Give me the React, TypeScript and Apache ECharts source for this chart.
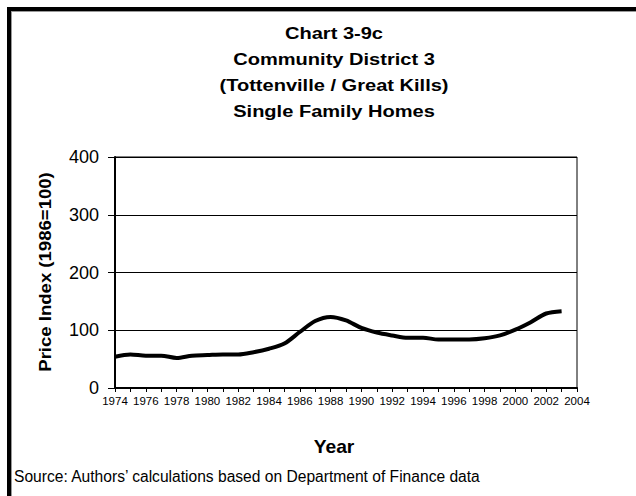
import React, { useEffect, useRef } from "react";
import * as echarts from "echarts";

const years = [
  "1974", "1975", "1976", "1977", "1978", "1979", "1980", "1981", "1982", "1983",
  "1984", "1985", "1986", "1987", "1988", "1989", "1990", "1991", "1992", "1993",
  "1994", "1995", "1996", "1997", "1998", "1999", "2000", "2001", "2002", "2003", "2004",
];
const priceIndex = [
  54, 58, 56, 56, 52, 56, 57, 58, 58, 62,
  68, 77, 97, 116, 123, 117, 104, 96, 91, 87,
  87, 84, 84, 84, 86, 91, 101, 114, 129, 133,
];
const titleLines = [
  "Chart 3-9c",
  "Community District 3",
  "(Tottenville / Great Kills)",
  "Single Family Homes",
];
const yAxisTitle = "Price Index (1986=100)";
const xAxisTitle = "Year";
const sourceText = "Source: Authors\u2019 calculations based on Department of Finance data";

const FONT = "'Liberation Sans', Arial, Helvetica, sans-serif";

export default function App() {
  const ref = useRef<HTMLDivElement>(null);
  useEffect(() => {
    if (!ref.current) return;
    const chart = echarts.init(ref.current, undefined, { renderer: "svg" });
    const titleEls = titleLines.map((t, i) => ({
      type: "text",
      x: 334,
      y: 33 + i * 26,
      scaleX: 1.18,
      style: {
        text: t,
        fontSize: 17,
        fontWeight: "bold",
        fontFamily: FONT,
        fill: "#000",
        align: "center",
        verticalAlign: "middle",
      },
    }));
    chart.setOption({
      animation: false,
      backgroundColor: "#fff",
      textStyle: { fontFamily: FONT },
      grid: {
        left: 115,
        right: 59,
        top: 157,
        bottom: 108,
        show: true,
        borderColor: "#000",
        borderWidth: 1,
        backgroundColor: "transparent",
      },
      xAxis: {
        type: "category",
        data: years,
        boundaryGap: false,
        axisLine: { show: true, lineStyle: { color: "#000", width: 2 } },
        axisTick: { show: true, interval: 0, length: 4, lineStyle: { color: "#000", width: 1 } },
        axisLabel: {
          interval: 1,
          margin: 7,
          fontSize: 11.5,
          color: "#000",
          fontFamily: "'Liberation Sans Narrow', 'Arial Narrow', 'Liberation Sans', Arial, sans-serif",
        },
        splitLine: { show: false },
      },
      yAxis: {
        type: "value",
        min: 0,
        max: 400,
        interval: 100,
        axisLine: { show: true, lineStyle: { color: "#000", width: 2 } },
        axisTick: { show: true, length: 7, lineStyle: { color: "#000", width: 1 } },
        axisLabel: { margin: 16, fontSize: 18, color: "#000", fontFamily: FONT },
        splitLine: { show: true, lineStyle: { color: "#000", width: 1 } },
      },
      series: [
        {
          type: "line",
          data: priceIndex,
          smooth: 0.3,
          showSymbol: false,
          symbol: "none",
          lineStyle: { color: "#000", width: 4 },
          itemStyle: { color: "#000" },
        },
      ],
      graphic: [
        { type: "rect", shape: { x: 7, y: 7, width: 4, height: 489 }, style: { fill: "#000" } },
        { type: "rect", shape: { x: 7, y: 7, width: 629, height: 4 }, style: { fill: "#000" } },
        { type: "rect", shape: { x: 11, y: 11, width: 1, height: 485 }, style: { fill: "#999" } },
        { type: "rect", shape: { x: 11, y: 11, width: 625, height: 1 }, style: { fill: "#999" } },
        ...titleEls,
        {
          type: "text",
          x: 45,
          y: 272,
          rotation: Math.PI / 2,
          scaleX: 1.16,
          style: {
            text: yAxisTitle,
            fontSize: 16,
            fontWeight: "bold",
            fontFamily: FONT,
            fill: "#000",
            align: "center",
            verticalAlign: "middle",
          },
        },
        {
          type: "text",
          x: 334,
          y: 447,
          scaleX: 1.1,
          style: {
            text: xAxisTitle,
            fontSize: 17.5,
            fontWeight: "bold",
            fontFamily: FONT,
            fill: "#000",
            align: "center",
            verticalAlign: "middle",
          },
        },
        {
          type: "text",
          x: 14,
          y: 476,
          style: {
            text: sourceText,
            fontSize: 15.6,
            fontFamily: FONT,
            fill: "#000",
            align: "left",
            verticalAlign: "middle",
          },
        },
      ],
    });
    return () => chart.dispose();
  }, []);
  return (
    <div
      ref={ref}
      style={{ position: "fixed", left: 0, top: 0, width: 636, height: 496, background: "#fff" }}
    />
  );
}
